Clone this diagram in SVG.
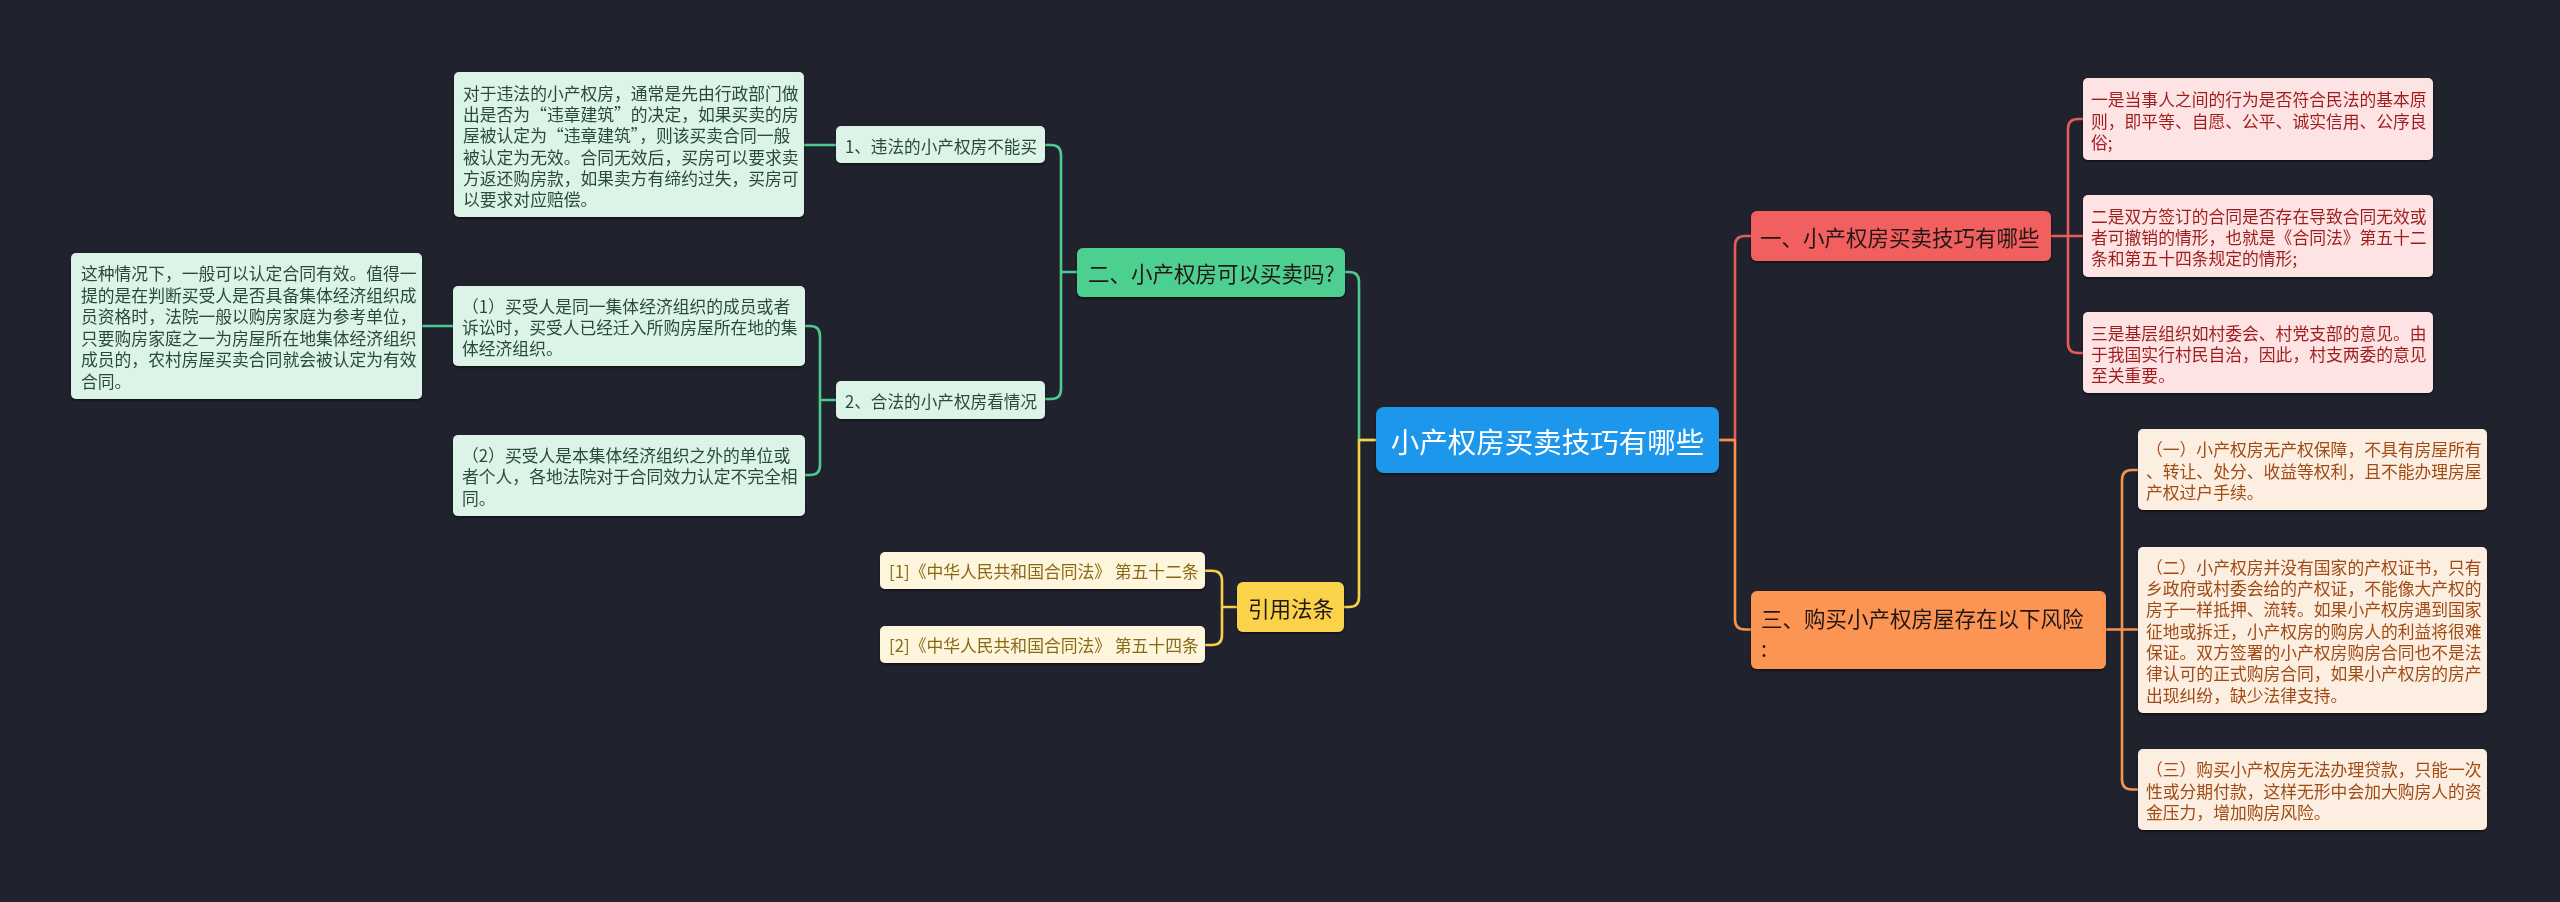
<svg xmlns="http://www.w3.org/2000/svg" width="2560" height="902" viewBox="0 0 2560 902">
<defs>
<filter id="sh" x="-5%" y="-10%" width="110%" height="130%"><feDropShadow dx="0" dy="1.5" stdDeviation="1" flood-color="#000" flood-opacity="0.55"/></filter>
<style>
text{font-family:"Noto Sans CJK SC","Noto Sans",sans-serif;dominant-baseline:central}
.c{fill:none;stroke-width:2.6;stroke-linecap:round;stroke-linejoin:round}
.cr{stroke:#e65c5a}.co{stroke:#f4944f}.cg{stroke:#4ccb8c}.cy{stroke:#f6d048}
.big{font-size:21.5px}
.mid{font-size:17.5px}
.sm{font-size:16.8px}
.rn{fill:#f1605e}.on{fill:#fc9552}.gn{fill:#4dcf8f}.yn{fill:#fbd34b}
.rl{fill:#fde3e3}.ol{fill:#fdeee2}.gl{fill:#dcf4e7}.yl{fill:#fdf6dd}
.rt{fill:#9e1f1f}.ot{fill:#a04c14}.gt{fill:#2b4a3a}.yt{fill:#8a6914}
.dt{fill:#241818}
</style>
</defs>
<rect width="2560" height="902" fill="#20232e"/>
<g id="connectors">
<path class="c cr" d="M1719,440 H1735 V246 Q1735,236 1745,236 H1751"/>
<path class="c co" d="M1719,440 H1735 V619.5 Q1735,629.5 1745,629.5 H1751"/>
<path class="c cg" d="M1376,440 H1359 V282 Q1359,272 1349,272 H1345"/>
<path class="c cy" d="M1376,440 H1359 V597 Q1359,607 1349,607 H1344"/>
<path class="c cr" d="M2051,236 H2083 M2068,236 V129 Q2068,119 2078,119 H2083 M2068,236 V343 Q2068,353 2078,353 H2083"/>
<path class="c co" d="M2106,629.5 H2138 M2122,629.5 V480 Q2122,470 2132,470 H2138 M2122,629.5 V779.5 Q2122,789.5 2132,789.5 H2138"/>
<path class="c cg" d="M1077,272 H1061 V155 Q1061,145 1051,145 H1045 M1061,272 V389 Q1061,399 1051,399 H1045"/>
<path class="c cg" d="M836,145 H804"/>
<path class="c cg" d="M836,400 H820 V336 Q820,326 810,326 H805 M820,400 V465 Q820,475 810,475 H805"/>
<path class="c cg" d="M453,326 H422"/>
<path class="c cy" d="M1237,607 H1222 V580.7 Q1222,570.7 1212,570.7 H1205 M1222,607 V635 Q1222,645 1212,645 H1205"/>
</g>
<g id="center" filter="url(#sh)">
<rect x="1376" y="407" width="343" height="66" rx="8" fill="#1f97ec"/>
<text x="1547.5" y="440" text-anchor="middle" font-size="28.5" fill="#fff">小产权房买卖技巧有哪些</text>
</g>
<g id="n1" filter="url(#sh)">
<rect class="rn" x="1751" y="211" width="300" height="50" rx="6"/>
<text class="big dt" x="1760" y="236">一、小产权房买卖技巧有哪些</text>
</g>
<g id="n1a" filter="url(#sh)">
<rect class="rl" x="2083" y="78" width="350" height="82" rx="5"/>
<text class="sm rt" x="2091"><tspan x="2091" y="99.3">一是当事人之间的行为是否符合民法的基本原</tspan><tspan x="2091" y="120.6">则，即平等、自愿、公平、诚实信用、公序良</tspan><tspan x="2091" y="141.9">俗;</tspan></text>
</g>
<g id="n1b" filter="url(#sh)">
<rect class="rl" x="2083" y="195" width="350" height="82" rx="5"/>
<text class="sm rt" x="2091"><tspan x="2091" y="215.8">二是双方签订的合同是否存在导致合同无效或</tspan><tspan x="2091" y="237.1">者可撤销的情形，也就是《合同法》第五十二</tspan><tspan x="2091" y="258.4">条和第五十四条规定的情形;</tspan></text>
</g>
<g id="n1c" filter="url(#sh)">
<rect class="rl" x="2083" y="312" width="350" height="81" rx="5"/>
<text class="sm rt" x="2091"><tspan x="2091" y="332.7">三是基层组织如村委会、村党支部的意见。由</tspan><tspan x="2091" y="354">于我国实行村民自治，因此，村支两委的意见</tspan><tspan x="2091" y="375.3">至关重要。</tspan></text>
</g>
<g id="n3" filter="url(#sh)">
<rect class="on" x="1751" y="591" width="355" height="78" rx="6"/>
<text class="big dt" x="1761"><tspan x="1761" y="616.7">三、购买小产权房屋存在以下风险</tspan><tspan x="1761" y="646.7">:</tspan></text>
</g>
<g id="n3a" filter="url(#sh)">
<rect class="ol" x="2138" y="429" width="349" height="81" rx="5"/>
<text class="sm ot"><tspan x="2146" y="449.3">（一）小产权房无产权保障，不具有房屋所有</tspan><tspan x="2146" y="470.6">、转让、处分、收益等权利，且不能办理房屋</tspan><tspan x="2146" y="491.9">产权过户手续。</tspan></text>
</g>
<g id="n3b" filter="url(#sh)">
<rect class="ol" x="2138" y="547" width="349" height="166" rx="5"/>
<text class="sm ot"><tspan x="2146" y="566.7">（二）小产权房并没有国家的产权证书，只有</tspan><tspan x="2146" y="588">乡政府或村委会给的产权证，不能像大产权的</tspan><tspan x="2146" y="609.3">房子一样抵押、流转。如果小产权房遇到国家</tspan><tspan x="2146" y="630.6">征地或拆迁，小产权房的购房人的利益将很难</tspan><tspan x="2146" y="651.9">保证。双方签署的小产权房购房合同也不是法</tspan><tspan x="2146" y="673.2">律认可的正式购房合同，如果小产权房的房产</tspan><tspan x="2146" y="694.5">出现纠纷，缺少法律支持。</tspan></text>
</g>
<g id="n3c" filter="url(#sh)">
<rect class="ol" x="2138" y="749" width="349" height="81" rx="5"/>
<text class="sm ot"><tspan x="2146" y="769.3">（三）购买小产权房无法办理贷款，只能一次</tspan><tspan x="2146" y="790.6">性或分期付款，这样无形中会加大购房人的资</tspan><tspan x="2146" y="811.9">金压力，增加购房风险。</tspan></text>
</g>
<g id="n2" filter="url(#sh)">
<rect class="gn" x="1077" y="248" width="268" height="49" rx="6"/>
<text class="big dt" x="1088" y="272">二、小产权房可以买卖吗?</text>
</g>
<g id="n2a" filter="url(#sh)">
<rect class="gl" x="836" y="126" width="209" height="37" rx="5"/>
<text class="mid gt" x="845" y="145" textLength="192" lengthAdjust="spacingAndGlyphs">1、违法的小产权房不能买</text>
</g>
<g id="n2a1" filter="url(#sh)">
<rect class="gl" x="454" y="72" width="350" height="145" rx="5"/>
<text class="sm gt"><tspan x="463" y="92.7">对于违法的小产权房，通常是先由行政部门做</tspan><tspan x="463" y="114">出是否为“违章建筑”的决定，如果买卖的房</tspan><tspan x="463" y="135.3">屋被认定为“违章建筑”，则该买卖合同一般</tspan><tspan x="463" y="156.6">被认定为无效。合同无效后，买房可以要求卖</tspan><tspan x="463" y="177.9">方返还购房款，如果卖方有缔约过失，买房可</tspan><tspan x="463" y="199.2">以要求对应赔偿。</tspan></text>
</g>
<g id="n2b" filter="url(#sh)">
<rect class="gl" x="836" y="381" width="209" height="38" rx="5"/>
<text class="mid gt" x="845" y="400" textLength="192" lengthAdjust="spacingAndGlyphs">2、合法的小产权房看情况</text>
</g>
<g id="n2b1" filter="url(#sh)">
<rect class="gl" x="453" y="286" width="352" height="80" rx="5"/>
<text class="sm gt"><tspan x="462" y="305.7">（1）买受人是同一集体经济组织的成员或者</tspan><tspan x="462" y="327">诉讼时，买受人已经迁入所购房屋所在地的集</tspan><tspan x="462" y="348.3">体经济组织。</tspan></text>
</g>
<g id="n2b1a" filter="url(#sh)">
<rect class="gl" x="71" y="253" width="351" height="146" rx="5"/>
<text class="sm gt"><tspan x="81" y="273.3">这种情况下，一般可以认定合同有效。值得一</tspan><tspan x="81" y="294.8">提的是在判断买受人是否具备集体经济组织成</tspan><tspan x="81" y="316.3">员资格时，法院一般以购房家庭为参考单位，</tspan><tspan x="81" y="337.8">只要购房家庭之一为房屋所在地集体经济组织</tspan><tspan x="81" y="359.3">成员的，农村房屋买卖合同就会被认定为有效</tspan><tspan x="81" y="380.8">合同。</tspan></text>
</g>
<g id="n2b2" filter="url(#sh)">
<rect class="gl" x="453" y="435" width="352" height="81" rx="5"/>
<text class="sm gt"><tspan x="462" y="455">（2）买受人是本集体经济组织之外的单位或</tspan><tspan x="462" y="476.3">者个人，各地法院对于合同效力认定不完全相</tspan><tspan x="462" y="497.6">同。</tspan></text>
</g>
<g id="n4" filter="url(#sh)">
<rect class="yn" x="1237" y="582" width="107" height="50" rx="6"/>
<text class="big dt" x="1248" y="607">引用法条</text>
</g>
<g id="n4a" filter="url(#sh)">
<rect class="yl" x="880" y="552" width="325" height="37" rx="5"/>
<text class="sm yt" x="889" y="570.7">[1]《中华人民共和国合同法》 第五十二条</text>
</g>
<g id="n4b" filter="url(#sh)">
<rect class="yl" x="880" y="626" width="325" height="37" rx="5"/>
<text class="sm yt" x="889" y="645">[2]《中华人民共和国合同法》 第五十四条</text>
</g>
</svg>
